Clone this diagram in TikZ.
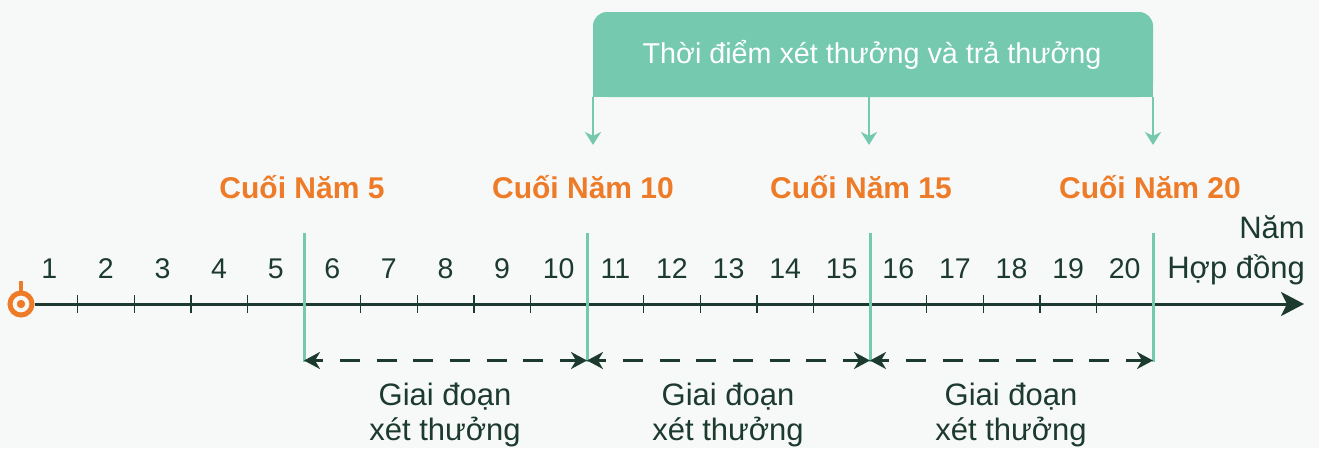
\documentclass[tikz,border=0pt]{standalone}
\usepackage{fontspec}
\setmainfont{Liberation Sans}
\usetikzlibrary{arrows.meta}
\definecolor{bgc}{HTML}{F7F9F9}
\definecolor{tealc}{HTML}{74C9AF}
\definecolor{orangec}{HTML}{EE7B27}
\definecolor{darkc}{HTML}{1C3A2E}
\begin{document}
\begin{tikzpicture}[x=1pt,y=-1pt,
  num/.style={anchor=base, inner sep=0pt, text=darkc, font=\fontsize{28.5}{34}\selectfont},
  yearlbl/.style={anchor=base, inner sep=0pt, text=orangec, font=\bfseries\fontsize{30}{36}\selectfont},
  phase/.style={anchor=base, inner sep=0pt, text=darkc, font=\fontsize{31}{37}\selectfont},
  axisline/.style={draw=darkc, line width=3pt, -{Stealth[length=23pt,width=24pt,inset=6pt]}},
  tickline/.style={draw=darkc, line width=1.4pt},
  gline/.style={draw=tealc, line width=3pt},
  dasharrow/.style={draw=darkc, line width=2.4pt, dash pattern=on 20pt off 16.7pt, dash phase=11pt,
     {Stealth[length=16pt,width=17pt,inset=5pt]}-{Stealth[length=16pt,width=17pt,inset=5pt]}},
  bannerarrow/.style={draw=tealc, line width=2.5pt, -{Stealth[length=13pt,width=16pt,inset=4pt]}}
]
\useasboundingbox (0,0) rectangle (1319,448);
\fill[bgc] (0,0) rectangle (1319,448);

% banner
\fill[tealc, rounded corners=14pt] (593,12) rectangle (1153,97);
\fill[tealc] (593,45) rectangle (1153,97);
\node[anchor=base, inner sep=0pt, text=white, font=\fontsize{28.7}{34}\selectfont] (banner) at (872,63) {Thời điểm xét thưởng và trả thưởng};
\coordinate (bt1) at (593,97);  \coordinate (bh1) at (593,145);
\coordinate (bt2) at (869,97);  \coordinate (bh2) at (869,145);
\coordinate (bt3) at (1153,97); \coordinate (bh3) at (1153,145);
\draw[bannerarrow] (bt1) -- (bh1);
\draw[bannerarrow] (bt2) -- (bh2);
\draw[bannerarrow] (bt3) -- (bh3);

% year-end labels
\node[yearlbl] (c5)  at (302,198)  {Cuối Năm 5};
\node[yearlbl] (c10) at (583,198)  {Cuối Năm 10};
\node[yearlbl] (c15) at (861,198)  {Cuối Năm 15};
\node[yearlbl] (c20) at (1150,198) {Cuối Năm 20};

% axis label
\node[anchor=base east, inner sep=0pt, text=darkc, font=\fontsize{31}{37}\selectfont] (nam) at (1305,238) {Năm};
\node[anchor=base east, inner sep=0pt, text=darkc, font=\fontsize{31}{37}\selectfont] (hopdong) at (1305,278) {Hợp đồng};

% origin marker
\node[circle, draw=orangec, line width=5pt, minimum size=22pt, inner sep=0pt] (o) at (21,304) {};
\fill[orangec] (o.center) circle (4.2);
\coordinate (stemtop) at (21,281);
\draw[orangec, line width=4.5pt] (o.north) -- (stemtop);

% axis
\coordinate (axend) at (1304,304);
\draw[axisline] (o.east) -- (axend);

% ticks
\foreach \i in {1,2,3,4,6,7,8,9,11,12,13,14,16,17,18,19}{
  \coordinate (tt\i) at ({21+56.6*\i},295);
  \coordinate (tb\i) at ({21+56.6*\i},313);
  \draw[tickline] (tt\i) -- (tb\i);
}
% numbers
\foreach \i in {1,...,20}{
  \node[num] (n\i) at ({21+56.6*(\i-0.5)},278) {\i};
}

% green lines
\foreach \k in {5,10,15,20}{
  \coordinate (gt\k) at ({21+56.6*\k},233);
  \coordinate (gb\k) at ({21+56.6*\k},362);
  \coordinate (d\k) at ({21+56.6*\k},360.5);
  \draw[gline] (gt\k) -- (gb\k);
}

% dashed phase arrows
\draw[dasharrow] (d5) -- (d10);
\draw[dasharrow] (d10) -- (d15);
\draw[dasharrow] (d15) -- (d20);

% phase labels
\node[phase] (p1a) at (445,405) {Giai đoạn};
\node[phase] (p1b) at (445,440) {xét thưởng};
\node[phase] (p2a) at (728,405) {Giai đoạn};
\node[phase] (p2b) at (728,440) {xét thưởng};
\node[phase] (p3a) at (1011,405) {Giai đoạn};
\node[phase] (p3b) at (1011,440) {xét thưởng};
\end{tikzpicture}
\end{document}
